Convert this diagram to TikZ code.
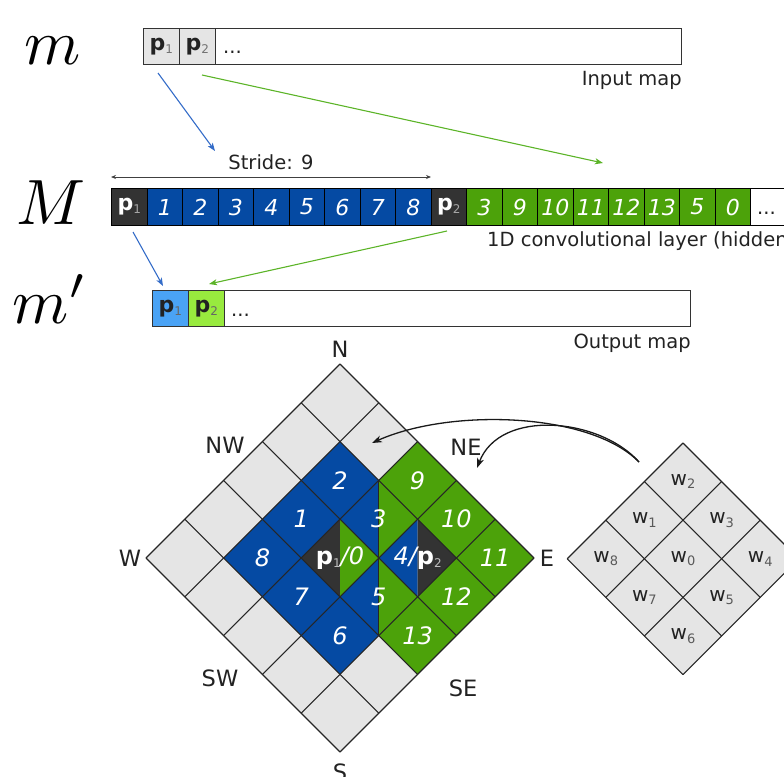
\documentclass[tikz,border=0pt]{standalone}
\usepackage{graphicx}
\usepackage{fontspec}
\newfontfamily\dv{DejaVu Sans}
\usetikzlibrary{arrows.meta}
\definecolor{blueC}{RGB}{5,74,163}
\definecolor{greenC}{RGB}{76,162,10}
\definecolor{darkC}{RGB}{51,51,51}
\definecolor{grayC}{RGB}{229,229,229}
\definecolor{lblueC}{RGB}{74,163,245}
\definecolor{lgreenC}{RGB}{152,234,62}
\definecolor{arrB}{RGB}{52,108,200}
\definecolor{arrG}{RGB}{92,180,40}
\definecolor{txtC}{RGB}{34,34,34}
\newcommand\pl[2]{{\bfseries p}\raisebox{-3pt}{\fontsize{12}{12}\selectfont\mdseries\upshape\color{#2}#1}}
\newcommand\wl[1]{w\raisebox{-3.5pt}{\fontsize{13}{13}\selectfont\color{black!65}#1}}
\newcommand\bigmath[1]{\scalebox{6.4}{$#1$}}
\tikzset{
  lbl/.style={font=\dv\fontsize{19.5}{20}\selectfont, text=txtC, inner sep=0pt},
  cmp/.style={font=\dv\fontsize{22.5}{23}\selectfont, text=txtC, inner sep=0pt},
  mathlbl/.style={anchor=base, inner sep=0pt},
  mcell/.style={draw=black, line width=1pt, minimum width=35.5pt, minimum height=37pt,
    inner sep=0pt, anchor=north west, text=white, font=\dv\itshape\fontsize{22}{22}\selectfont},
  pcell/.style={draw=black!80, line width=1pt, minimum width=35.5pt, minimum height=36pt,
    inner sep=0pt, anchor=north west, text=txtC, font=\dv\fontsize{22}{22}\selectfont},
  dnum/.style={text=white, inner sep=0pt, font=\dv\itshape\fontsize{24}{24}\selectfont},
  wlab/.style={text=txtC, inner sep=0pt, font=\dv\fontsize{20}{20}\selectfont},
  gline/.style={draw=black!85, line width=1.1pt},
  conn/.style={line width=1.1pt, -{Stealth[length=8pt,width=6pt,inset=2pt]}},
  curv/.style={line width=1.3pt, draw=black!90, -{Stealth[length=10pt,width=7pt,inset=3pt]}},
}
\begin{document}
\begin{tikzpicture}[x=1pt,y=-1pt]
\useasboundingbox (0,0) rectangle (784,776);
\clip (0,0) rectangle (784,776);

% ---- math labels
\node[mathlbl] (lm) at (53,65) {\bigmath{m}};
\node[mathlbl] (lM) at (51,224.5) {\bigmath{M}};
\node[mathlbl] (lmp) at (50,323) {\bigmath{m'}};

% ---- input map
\node[draw=black!80, line width=1pt, fill=white, minimum width=538pt, minimum height=36pt,
      anchor=north west, inner sep=0pt] (inrow) at (143,28.5) {};
\node[pcell, fill=grayC] (in1) at (143,28.5) {\pl{1}{black!55}};
\node[pcell, fill=grayC] (in2) at (179,28.5) {\pl{2}{black!55}};
\node[lbl, anchor=base west] (indots) at (223,54) {...};
\node[lbl, anchor=east] (inlbl) at (682,80) {Input map};

% ---- hidden layer M
\node[mcell, fill=darkC] (M0) at (111,188) {\upshape\pl{1}{black!35}};
\foreach \i in {1,...,8}{
  \pgfmathsetmacro\xx{111+35.5*\i}
  \node[mcell, fill=blueC] (M\i) at (\xx,188) {\i};
}
\node[mcell, fill=darkC] (M9) at (430.5,188) {\upshape\pl{2}{black!35}};
\foreach \t [count=\i from 10] in {3,9,10,11,12,13,5,0}{
  \pgfmathsetmacro\xx{111+35.5*\i}
  \node[mcell, fill=greenC] (M\i) at (\xx,188) {\t};
}
\node[mcell, fill=white, minimum width=200pt] (Mrest) at (750,188) {};
\node[lbl, anchor=base west] (Mdots) at (757,214) {...};
\node[lbl, anchor=west] (Mlbl) at (487,241) {1D convolutional layer (hidden};

% stride
\coordinate (sL) at (111,177);
\coordinate (sR) at (431,177);
\draw[line width=0.8pt, black!75, {Stealth[length=5pt,width=4pt]}-{Stealth[length=5pt,width=4pt]}] (sL) -- (sR);
\node[lbl] (stride) at (271,162) {Stride: 9};

% ---- output map m'
\node[draw=black!80, line width=1pt, fill=white, minimum width=538pt, minimum height=36pt,
      anchor=north west, inner sep=0pt] (outrow) at (152,290) {};
\node[pcell, fill=lblueC] (out1) at (152,290) {\pl{1}{black!60}};
\node[pcell, fill=lgreenC] (out2) at (188,290) {\pl{2}{black!60}};
\node[lbl, anchor=base west] (outdots) at (231,316) {...};
\node[lbl, anchor=east] (outlbl) at (691,343) {Output map};

% ---- connectors between rows
\coordinate (b1s) at (158,73);  \coordinate (b1e) at (215,151);
\coordinate (g1s) at (202,75);  \coordinate (g1e) at (603,163);
\coordinate (b2s) at (133,232); \coordinate (b2e) at (163,286);
\coordinate (g2s) at (447,231); \coordinate (g2e) at (209,284);
\draw[conn, arrB] (b1s) -- (b1e);
\draw[conn, arrG] (g1s) -- (g1e);
\draw[conn, arrB] (b2s) -- (b2e);
\draw[conn, arrG] (g2s) -- (g2e);

% ---- big diamond grid
\begin{scope}[shift={(340pt,-364pt)}, x={(38.8pt,-38.8pt)}, y={(-38.8pt,-38.8pt)}]
  \fill[grayC] (0,0) -- (5,0) -- (5,5) -- (0,5) -- cycle;
  \foreach \u/\v in {1/1,1/2,1/3,2/3,3/3}
    \fill[blueC] (\u,\v) -- ++(1,0) -- ++(0,1) -- ++(-1,0) -- cycle;
  \foreach \u/\v in {2/0,3/0,4/0,4/1,4/2}
    \fill[greenC] (\u,\v) -- ++(1,0) -- ++(0,1) -- ++(-1,0) -- cycle;
  % left halves
  \foreach \u/\v/\c in {2/1/blueC,3/2/blueC,3/1/blueC,2/2/darkC}
    \fill[\c] (\u,\v) -- ++(0,1) -- ++(1,0) -- cycle;
  % right halves
  \foreach \u/\v/\c in {2/1/greenC,3/2/greenC,2/2/greenC,3/1/darkC}
    \fill[\c] (\u,\v) -- ++(1,0) -- ++(0,1) -- cycle;
  \foreach \i in {0,...,5}{
    \draw[gline] (\i,0) -- (\i,5);
    \draw[gline] (0,\i) -- (5,\i);
  }
  \draw[gline] (2,1) -- (4,3);
  % numbers
  \node[dnum] (d2)  at (1.5,1.5) {2};
  \node[dnum] (d1)  at (1.5,2.5) {1};
  \node[dnum] (d8)  at (1.5,3.5) {8};
  \node[dnum] (d7)  at (2.5,3.5) {7};
  \node[dnum] (d6)  at (3.5,3.5) {6};
  \node[dnum] (d3)  at (2.5,1.5) {3};
  \node[dnum] (d5)  at (3.5,2.5) {5};
  \node[dnum] (d9)  at (2.5,0.5) {9};
  \node[dnum] (d10) at (3.5,0.5) {10};
  \node[dnum] (d11) at (4.5,0.5) {11};
  \node[dnum] (d12) at (4.5,1.5) {12};
  \node[dnum] (d13) at (4.5,2.5) {13};
  \node[dnum] (dp1) at (2.5,2.5) {\upshape\pl{1}{white!75!black}\itshape/0};
  \node[dnum] (dp2) at (3.5,1.5) {4/\upshape\pl{2}{white!75!black}};
\end{scope}

% compass labels
\node[cmp] (cN)  at (340,349) {N};
\node[cmp] (cNW) at (225,445) {NW};
\node[cmp] (cNE) at (466,447) {NE};
\node[cmp] (cW)  at (130,558) {W};
\node[cmp] (cE)  at (547,558) {E};
\node[cmp] (cSW) at (220,678) {SW};
\node[cmp] (cSE) at (463,688) {SE};
\node[cmp] (cS)  at (340,772) {S};

% ---- kernel diamond
\begin{scope}[shift={(683pt,-443pt)}, x={(38.6pt,-38.6pt)}, y={(-38.6pt,-38.6pt)}]
  \fill[grayC] (0,0) -- (3,0) -- (3,3) -- (0,3) -- cycle;
  \foreach \i in {0,...,3}{
    \draw[gline] (\i,0) -- (\i,3);
    \draw[gline] (0,\i) -- (3,\i);
  }
  \node[wlab] (w2) at (0.5,0.5) {\wl{2}};
  \node[wlab] (w3) at (1.5,0.5) {\wl{3}};
  \node[wlab] (w4) at (2.5,0.5) {\wl{4}};
  \node[wlab] (w1) at (0.5,1.5) {\wl{1}};
  \node[wlab] (w0) at (1.5,1.5) {\wl{0}};
  \node[wlab] (w5) at (2.5,1.5) {\wl{5}};
  \node[wlab] (w8) at (0.5,2.5) {\wl{8}};
  \node[wlab] (w7) at (1.5,2.5) {\wl{7}};
  \node[wlab] (w6) at (2.5,2.5) {\wl{6}};
\end{scope}

% ---- curved arrows
\coordinate (cs) at (639,462);
\coordinate (cA) at (372,443);
\coordinate (cB) at (477,468);
\draw[curv] (cs) .. controls (590,412) and (450,408) .. (cA);
\draw[curv] (cs) .. controls (600,418) and (500,408) .. (cB);
\end{tikzpicture}
\end{document}
